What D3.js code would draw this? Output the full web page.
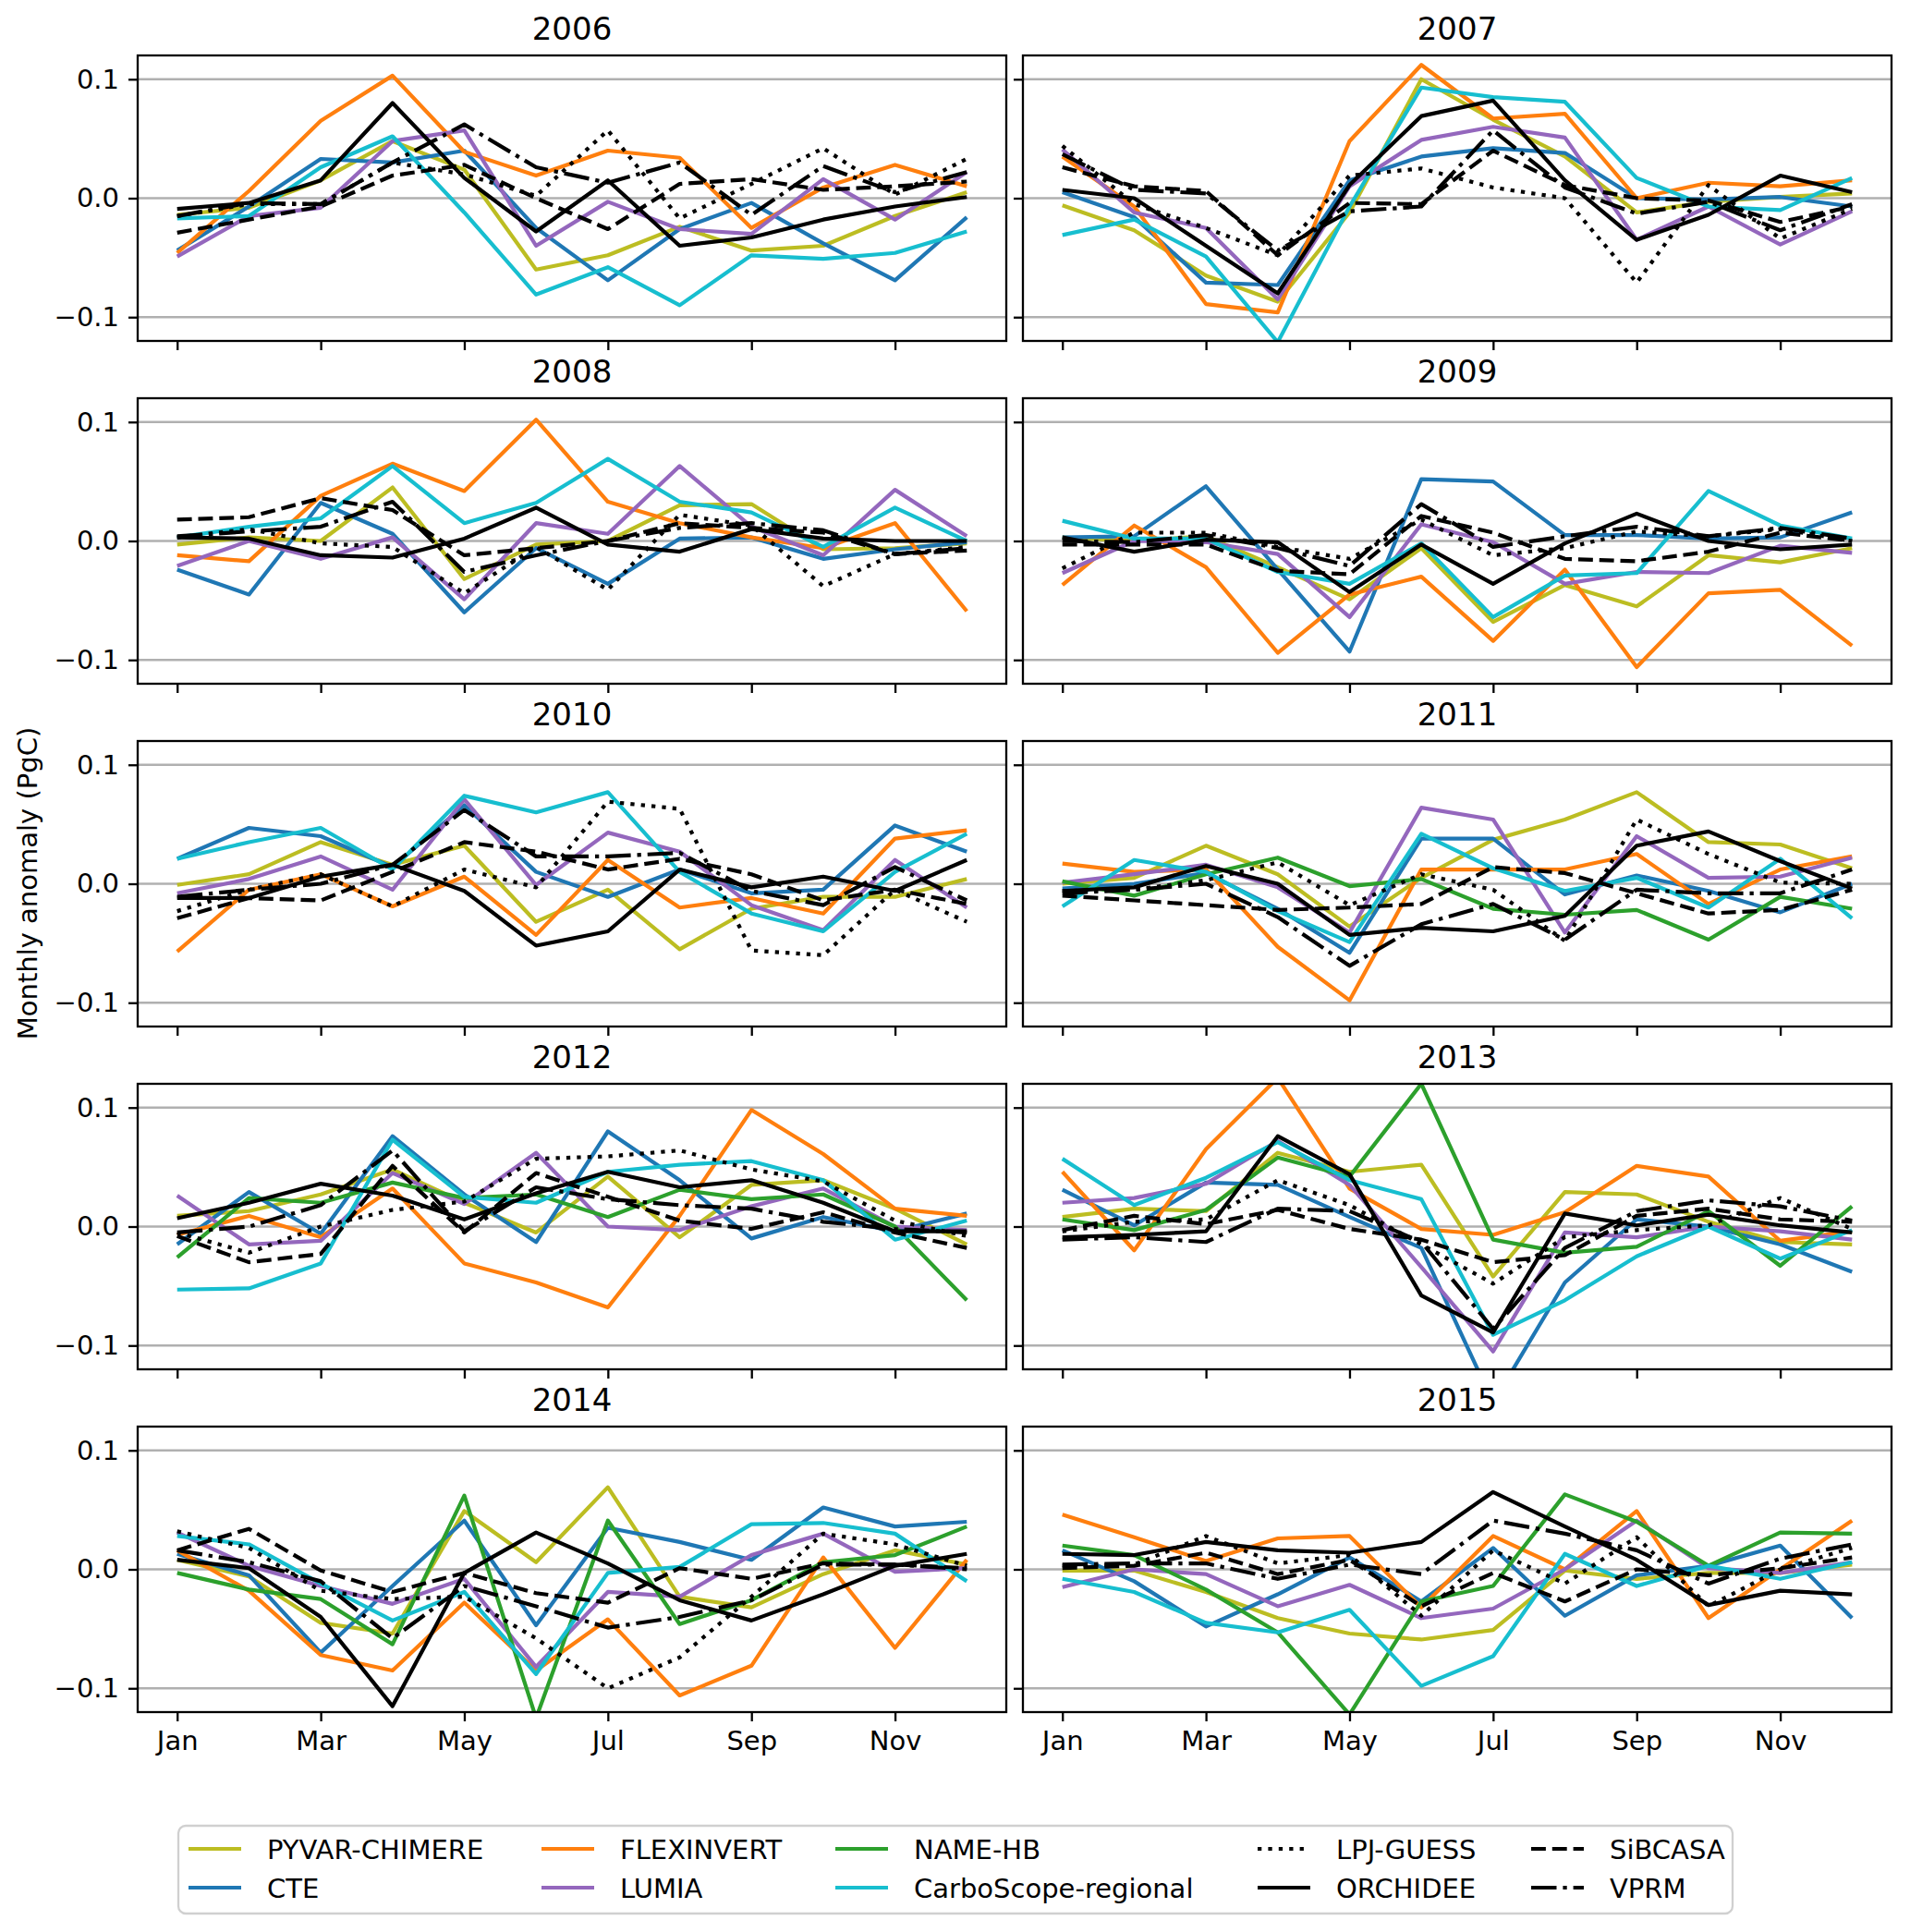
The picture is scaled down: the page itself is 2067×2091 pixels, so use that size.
<!DOCTYPE html>
<html>
<head>
<meta charset="utf-8">
<script src="https://cdn.jsdelivr.net/npm/d3@7"></script>
<style>
  html, body { margin: 0; padding: 0; background: #ffffff; }
  svg { display: block; }
  text { font-family: "DejaVu Sans", sans-serif; }
</style>
</head>
<body>
<div id="chart"></div>
<script>
// ---------------- DATA ----------------
const years = ["2006","2007","2008","2009","2010","2011","2012","2013","2014","2015"];
const monthLabels = ["Jan","Feb","Mar","Apr","May","Jun","Jul","Aug","Sep","Oct","Nov","Dec"];
const xTickMonths = [0, 2, 4, 6, 8, 10];
const yTicks = [-0.1, 0.0, 0.1];

// one row per year (2006..2015), 12 monthly anomalies (PgC)
const PYVAR_CHIMERE = [
  [-0.014,-0.008,0.015,0.048,0.024,-0.060,-0.048,-0.024,-0.044,-0.040,-0.015,0.005],
  [-0.006,-0.027,-0.065,-0.087,-0.012,0.100,0.066,0.035,-0.012,-0.003,0.001,0.004],
  [-0.003,0.003,0.000,0.045,-0.032,-0.003,0.000,0.030,0.031,-0.007,-0.006,-0.002],
  [0.003,0.000,0.004,-0.022,-0.049,-0.006,-0.068,-0.037,-0.055,-0.012,-0.018,-0.006],
  [-0.001,0.008,0.035,0.016,0.032,-0.032,-0.005,-0.055,-0.021,-0.011,-0.011,0.004],
  [0.000,0.005,0.032,0.008,-0.036,0.005,0.037,0.054,0.077,0.035,0.033,0.013],
  [0.009,0.013,0.027,0.048,0.020,-0.005,0.042,-0.009,0.035,0.039,0.015,-0.015],
  [0.008,0.015,0.013,0.062,0.046,0.052,-0.042,0.029,0.027,0.004,-0.013,-0.015],
  [0.008,-0.006,-0.045,-0.054,0.049,0.006,0.069,-0.023,-0.032,-0.004,0.016,0.004],
  [-0.001,-0.001,-0.019,-0.041,-0.054,-0.059,-0.051,-0.001,-0.008,-0.003,-0.003,0.004]
];
const CTE = [
  [-0.044,-0.007,0.033,0.030,0.040,-0.025,-0.069,-0.026,-0.004,-0.038,-0.069,-0.016],
  [0.005,-0.016,-0.071,-0.073,0.015,0.035,0.042,0.038,0.000,-0.001,0.001,-0.007],
  [-0.024,-0.045,0.032,0.006,-0.060,-0.006,-0.036,0.002,0.003,-0.015,-0.007,-0.001],
  [0.003,0.004,0.046,-0.024,-0.093,0.052,0.050,0.005,0.005,0.002,0.003,0.024],
  [0.021,0.047,0.040,0.014,0.066,0.010,-0.011,0.012,-0.008,-0.005,0.049,0.027],
  [-0.004,0.000,0.009,-0.021,-0.058,0.038,0.038,-0.009,0.007,-0.006,-0.024,0.000],
  [-0.015,0.029,-0.006,0.076,0.027,-0.013,0.080,0.039,-0.010,0.008,-0.004,0.011],
  [0.031,0.001,0.037,0.035,0.008,-0.018,-0.148,-0.047,0.006,0.000,-0.015,-0.038],
  [0.013,-0.005,-0.070,-0.014,0.041,-0.047,0.035,0.023,0.008,0.052,0.036,0.040],
  [0.016,-0.010,-0.048,-0.021,0.010,-0.027,0.018,-0.039,-0.005,0.003,0.020,-0.041]
];
const FLEXINVERT = [
  [-0.046,0.006,0.065,0.103,0.039,0.019,0.040,0.034,-0.025,0.009,0.028,0.010],
  [0.035,-0.007,-0.089,-0.096,0.048,0.112,0.067,0.071,0.000,0.013,0.010,0.015],
  [-0.012,-0.017,0.038,0.065,0.042,0.102,0.033,0.015,0.003,-0.006,0.015,-0.059],
  [-0.037,0.013,-0.022,-0.094,-0.045,-0.030,-0.084,-0.024,-0.106,-0.044,-0.041,-0.088],
  [-0.057,-0.005,0.008,-0.019,0.006,-0.043,0.020,-0.020,-0.012,-0.025,0.038,0.045],
  [0.017,0.010,0.012,-0.053,-0.098,0.012,0.012,0.012,0.025,-0.017,0.012,0.023],
  [-0.007,0.009,-0.009,0.032,-0.031,-0.047,-0.068,0.009,0.098,0.061,0.015,0.009],
  [0.046,-0.020,0.065,0.125,0.032,-0.002,-0.007,0.012,0.051,0.042,-0.012,-0.004],
  [0.016,-0.018,-0.072,-0.085,-0.028,-0.085,-0.042,-0.106,-0.081,0.010,-0.066,0.008],
  [0.046,0.027,0.007,0.026,0.028,-0.032,0.028,0.000,0.049,-0.041,0.000,0.041]
];
const LUMIA = [
  [-0.049,-0.015,-0.008,0.048,0.057,-0.040,-0.003,-0.026,-0.030,0.016,-0.018,0.022],
  [0.041,-0.012,-0.025,-0.085,0.010,0.049,0.060,0.051,-0.035,-0.007,-0.039,-0.011],
  [-0.021,0.000,-0.015,0.003,-0.049,0.015,0.006,0.063,0.012,-0.012,0.043,0.004],
  [-0.027,0.000,-0.001,-0.011,-0.064,0.014,-0.001,-0.036,-0.026,-0.027,-0.004,-0.010],
  [-0.008,0.004,0.023,-0.005,0.071,-0.001,0.043,0.027,-0.018,-0.039,0.020,-0.020],
  [0.001,0.008,0.016,-0.003,-0.041,0.064,0.054,-0.041,0.040,0.005,0.006,0.022],
  [0.026,-0.015,-0.012,0.045,0.019,0.062,0.000,-0.003,0.017,0.032,0.000,-0.003],
  [0.020,0.024,0.036,0.072,0.035,-0.034,-0.105,-0.005,-0.009,0.000,-0.004,-0.011],
  [0.031,0.003,-0.014,-0.029,-0.008,-0.082,-0.019,-0.023,0.012,0.030,-0.002,0.001],
  [-0.015,0.000,-0.004,-0.031,-0.013,-0.041,-0.033,0.000,0.041,0.001,-0.003,0.006]
];
// NAME-HB has no data before 2011
const NAME_HB = [
  null, null, null, null, null,
  [0.002,-0.010,0.008,0.022,-0.002,0.004,-0.021,-0.026,-0.022,-0.047,-0.011,-0.021],
  [-0.026,0.024,0.020,0.037,0.024,0.027,0.008,0.031,0.023,0.027,0.000,-0.062],
  [0.006,-0.003,0.014,0.058,0.042,0.120,-0.011,-0.022,-0.017,0.013,-0.033,0.017],
  [-0.003,-0.017,-0.025,-0.063,0.062,-0.125,0.041,-0.046,-0.026,0.006,0.012,0.036],
  [0.020,0.012,-0.017,-0.053,-0.122,-0.027,-0.014,0.063,0.040,0.003,0.031,0.030]
];
const CARBOSCOPE = [
  [-0.017,-0.015,0.026,0.052,-0.012,-0.081,-0.058,-0.090,-0.048,-0.051,-0.046,-0.028],
  [-0.031,-0.018,-0.049,-0.121,-0.007,0.093,0.085,0.081,0.017,-0.007,-0.010,0.017],
  [0.003,0.012,0.019,0.063,0.015,0.032,0.069,0.033,0.024,-0.005,0.028,0.000],
  [0.017,0.002,0.002,-0.026,-0.036,-0.002,-0.064,-0.029,-0.027,0.042,0.013,0.002],
  [0.021,0.035,0.047,0.012,0.074,0.060,0.077,0.010,-0.025,-0.040,0.010,0.042],
  [-0.019,0.020,0.010,-0.023,-0.049,0.042,0.013,-0.006,0.005,-0.020,0.021,-0.029],
  [-0.053,-0.052,-0.031,0.073,0.025,0.020,0.046,0.052,0.055,0.039,-0.011,0.005],
  [0.057,0.018,0.041,0.071,0.039,0.023,-0.091,-0.062,-0.025,0.000,-0.027,-0.003],
  [0.028,0.021,-0.012,-0.043,-0.019,-0.088,-0.003,0.002,0.038,0.039,0.030,-0.010],
  [-0.008,-0.019,-0.045,-0.053,-0.034,-0.098,-0.073,0.013,-0.014,0.003,-0.008,0.006]
];
const LPJ_GUESS = [
  [-0.015,-0.005,-0.005,0.030,0.020,0.002,0.057,-0.017,0.012,0.042,0.003,0.033],
  [0.044,-0.005,-0.025,-0.048,0.019,0.025,0.009,0.000,-0.071,0.011,-0.034,-0.009],
  [0.003,0.010,-0.002,-0.005,-0.044,-0.005,-0.041,0.022,0.013,-0.038,-0.011,-0.005],
  [-0.023,0.007,0.007,-0.005,-0.015,0.018,-0.012,-0.006,0.008,0.004,0.010,0.000],
  [-0.023,-0.005,0.008,-0.019,0.012,-0.003,0.069,0.063,-0.056,-0.060,-0.005,-0.032],
  [-0.006,-0.005,0.003,0.018,-0.018,0.008,-0.005,-0.048,0.054,0.025,0.001,0.000],
  [-0.005,-0.022,0.000,0.014,0.021,0.057,0.059,0.064,0.048,0.038,0.005,-0.008],
  [-0.004,0.004,0.006,0.039,0.018,-0.015,-0.048,-0.009,-0.003,0.001,0.024,-0.002],
  [0.032,0.018,-0.018,-0.025,-0.023,-0.058,-0.100,-0.074,-0.023,0.030,0.021,0.003],
  [0.003,0.004,0.028,0.005,0.012,-0.039,0.016,-0.012,0.027,-0.031,0.000,0.018]
];
const ORCHIDEE = [
  [-0.009,-0.004,0.015,0.080,0.017,-0.028,0.015,-0.040,-0.033,-0.018,-0.007,0.001],
  [0.007,0.000,-0.040,-0.080,0.011,0.069,0.082,0.015,-0.035,-0.014,0.019,0.005],
  [0.003,0.002,-0.012,-0.014,0.002,0.028,-0.003,-0.009,0.010,0.002,0.000,0.000],
  [0.003,-0.009,0.001,-0.001,-0.043,-0.003,-0.036,-0.002,0.023,0.000,-0.007,-0.003],
  [-0.012,-0.012,0.006,0.016,-0.006,-0.052,-0.040,0.012,-0.003,0.006,-0.006,0.020],
  [-0.006,-0.003,0.015,0.000,-0.043,-0.037,-0.040,-0.027,0.032,0.044,0.019,-0.004],
  [0.007,0.020,0.036,0.026,0.006,0.028,0.046,0.033,0.039,0.020,-0.004,-0.004],
  [-0.009,-0.007,-0.004,0.076,0.044,-0.058,-0.089,0.011,0.001,0.010,0.001,-0.005],
  [0.008,0.001,-0.040,-0.115,-0.003,0.031,0.005,-0.026,-0.043,-0.021,0.003,0.013],
  [0.013,0.012,0.023,0.016,0.014,0.023,0.065,0.036,0.008,-0.030,-0.018,-0.021]
];
const SIBCASA = [
  [-0.029,-0.018,-0.007,0.019,0.028,0.000,-0.026,0.012,0.016,0.007,0.010,0.014],
  [0.026,0.010,0.006,-0.048,-0.004,-0.005,0.040,0.011,0.000,-0.002,-0.020,-0.007],
  [0.018,0.020,0.036,0.026,-0.012,-0.006,0.000,0.015,0.011,0.007,-0.011,-0.008],
  [-0.003,-0.003,-0.003,-0.025,-0.028,0.021,0.007,-0.015,-0.017,-0.009,0.007,0.000],
  [-0.029,-0.012,-0.014,0.010,0.035,0.027,0.012,0.021,0.008,-0.014,-0.005,-0.017],
  [-0.010,-0.014,-0.018,-0.022,-0.020,-0.017,0.014,0.009,-0.008,-0.025,-0.022,-0.005],
  [-0.008,-0.030,-0.023,0.051,-0.005,0.045,0.025,0.005,-0.002,0.012,-0.005,-0.018],
  [-0.003,0.009,0.002,0.014,-0.002,-0.011,-0.030,-0.024,0.009,0.015,0.006,0.004],
  [0.016,0.034,-0.001,-0.019,-0.003,-0.020,-0.028,0.001,-0.008,0.005,0.004,0.001],
  [0.001,0.003,0.014,-0.004,0.008,-0.031,-0.003,-0.027,0.000,-0.005,0.001,0.010]
];
const VPRM = [
  [-0.015,-0.004,-0.005,0.030,0.062,0.026,0.013,0.030,-0.014,0.027,0.005,0.022],
  [0.037,0.007,0.004,-0.044,-0.011,-0.007,0.057,0.009,-0.013,-0.003,-0.027,-0.005],
  [0.004,0.008,0.012,0.033,-0.026,-0.012,0.000,0.011,0.015,0.009,-0.011,-0.006],
  [0.000,-0.001,0.005,-0.006,-0.021,0.031,-0.005,0.004,0.012,0.004,0.011,0.002],
  [-0.011,-0.005,0.000,0.016,0.062,0.023,0.023,0.026,-0.006,-0.018,0.014,-0.014],
  [-0.008,-0.005,0.000,-0.028,-0.069,-0.034,-0.017,-0.047,-0.005,-0.008,-0.008,0.012],
  [-0.005,0.000,0.018,0.064,-0.004,0.033,0.023,0.018,0.015,0.004,-0.002,-0.005],
  [-0.011,-0.009,-0.013,0.015,0.013,-0.013,-0.086,-0.018,0.013,0.022,0.017,0.005],
  [0.016,0.006,-0.010,-0.058,-0.014,-0.031,-0.049,-0.040,-0.026,0.004,0.004,0.000],
  [0.004,0.005,0.005,-0.008,0.004,-0.004,0.041,0.030,0.016,-0.012,0.009,0.021]
];

// ---------------- STYLE ----------------
const LW = 4.2;
const DASHES = { solid: null, dotted: "4.3,7.1", dashed: "15.9,6.9", dashdot: "27.5,6.9,4.3,6.9" };
// drawing order (legend placement given separately)
const models = [
  { name: "PYVAR-CHIMERE",       color: "#bcbd22", dash: "solid",   values: PYVAR_CHIMERE },
  { name: "CTE",                 color: "#1f77b4", dash: "solid",   values: CTE },
  { name: "FLEXINVERT",          color: "#ff7f0e", dash: "solid",   values: FLEXINVERT },
  { name: "LUMIA",               color: "#9467bd", dash: "solid",   values: LUMIA },
  { name: "NAME-HB",             color: "#2ca02c", dash: "solid",   values: NAME_HB },
  { name: "CarboScope-regional", color: "#17becf", dash: "solid",   values: CARBOSCOPE },
  { name: "LPJ-GUESS",           color: "#000000", dash: "dotted",  values: LPJ_GUESS },
  { name: "ORCHIDEE",            color: "#000000", dash: "solid",   values: ORCHIDEE },
  { name: "SiBCASA",             color: "#000000", dash: "dashed",  values: SIBCASA },
  { name: "VPRM",                color: "#000000", dash: "dashdot", values: VPRM }
];
// legend: 5 columns x 2 rows (column-major fill)
const legendColumns = [
  ["PYVAR-CHIMERE", "CTE"],
  ["FLEXINVERT", "LUMIA"],
  ["NAME-HB", "CarboScope-regional"],
  ["LPJ-GUESS", "ORCHIDEE"],
  ["SiBCASA", "VPRM"]
];

// ---------------- LAYOUT ----------------
const W = 2067, H = 2091;
const FS = 29, TITLE_FS = 34;
const colX = [[149, 1089], [1107, 2047]];
const rowTop = [60, 431, 802, 1173, 1544];
const panelH = 309;
const AXW = 2.3;

const svg = d3.select("#chart").append("svg")
  .attr("width", W).attr("height", H)
  .attr("viewBox", `0 0 ${W} ${H}`);
svg.append("rect").attr("width", W).attr("height", H).attr("fill", "#ffffff");

const lineGen = (x, y) => d3.line().defined(d => d != null).x((d, i) => x(i)).y(d => y(d));

years.forEach((yr, k) => {
  const row = Math.floor(k / 2), col = k % 2;
  const [x0, x1] = colX[col];
  const top = rowTop[row], bot = top + panelH;
  const x = d3.scaleLinear().domain([-0.55, 11.55]).range([x0, x1]);
  const y = d3.scaleLinear().domain([-0.12, 0.12]).range([bot, top]);

  const g = svg.append("g").attr("class", "panel");
  const clipId = "clip" + k;
  g.append("clipPath").attr("id", clipId)
    .append("rect").attr("x", x0).attr("y", top).attr("width", x1 - x0).attr("height", panelH);

  // grid
  g.append("g").selectAll("line").data(yTicks).join("line")
    .attr("x1", x0).attr("x2", x1)
    .attr("y1", d => y(d)).attr("y2", d => y(d))
    .attr("stroke", "#b0b0b0").attr("stroke-width", AXW);

  // series
  const lg = g.append("g").attr("clip-path", `url(#${clipId})`);
  models.forEach(m => {
    const vals = m.values[k];
    if (!vals) return;
    lg.append("path").datum(vals)
      .attr("d", lineGen(x, y))
      .attr("fill", "none")
      .attr("stroke", m.color)
      .attr("stroke-width", LW)
      .attr("stroke-linejoin", "round")
      .attr("stroke-linecap", "butt")
      .attr("stroke-dasharray", DASHES[m.dash]);
  });

  // frame
  g.append("rect").attr("x", x0).attr("y", top).attr("width", x1 - x0).attr("height", panelH)
    .attr("fill", "none").attr("stroke", "#000").attr("stroke-width", AXW);

  // y axis
  const yAxis = d3.axisLeft(y).tickValues(yTicks).tickSize(10).tickPadding(10)
    .tickFormat(col === 0 ? d3.format(".1f") : () => "");
  const ya = g.append("g").attr("transform", `translate(${x0},0)`).call(yAxis);
  ya.select(".domain").remove();
  ya.selectAll(".tick line").attr("stroke-width", AXW);
  ya.selectAll(".tick text").attr("font-size", FS).attr("font-family", "DejaVu Sans").attr("fill", "#000");

  // x axis
  const xAxis = d3.axisBottom(x).tickValues(xTickMonths).tickSize(10).tickPadding(10)
    .tickFormat(row === 4 ? (i => monthLabels[i]) : () => "");
  const xa = g.append("g").attr("transform", `translate(0,${bot})`).call(xAxis);
  xa.select(".domain").remove();
  xa.selectAll(".tick line").attr("stroke-width", AXW);
  xa.selectAll(".tick text").attr("font-size", FS).attr("font-family", "DejaVu Sans").attr("fill", "#000");

  // title
  g.append("text").attr("x", (x0 + x1) / 2).attr("y", top - 17)
    .attr("text-anchor", "middle").attr("font-size", TITLE_FS).attr("fill", "#000")
    .text(yr);
});

// y label
svg.append("text")
  .attr("transform", `translate(40,956) rotate(-90)`)
  .attr("text-anchor", "middle").attr("font-size", FS).attr("fill", "#000")
  .text("Monthly anomaly (PgC)");

// legend
const leg = svg.append("g").attr("class", "legend");
leg.append("rect").attr("x", 193).attr("y", 1976).attr("width", 1682).attr("height", 95)
  .attr("rx", 8).attr("fill", "#ffffff").attr("stroke", "#d0d0d0").attr("stroke-width", AXW);
const legColX = [204, 586, 904, 1361, 1657];
const legRowY = [2001, 2043];
const modelByName = Object.fromEntries(models.map(m => [m.name, m]));
legendColumns.forEach((names, ci) => {
  names.forEach((nm, ri) => {
    const m = modelByName[nm];
    const cx = legColX[ci], cy = legRowY[ri];
    leg.append("line").attr("x1", cx).attr("x2", cx + 57).attr("y1", cy).attr("y2", cy)
      .attr("stroke", m.color).attr("stroke-width", LW)
      .attr("stroke-dasharray", DASHES[m.dash]);
    leg.append("text").attr("x", cx + 85).attr("y", cy + 10.5)
      .attr("font-size", FS).attr("fill", "#000").text(nm);
  });
});
</script>
</body>
</html>
